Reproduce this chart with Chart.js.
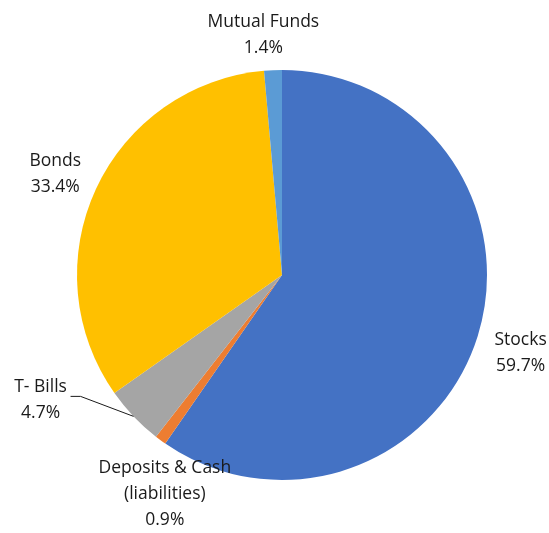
<!DOCTYPE html>
<html>
<head>
<meta charset="utf-8">
<script src="https://cdn.jsdelivr.net/npm/chart.js@4"></script>
<style>
  html, body { margin: 0; padding: 0; background: #fff; }
  #wrap { width: 549px; height: 533px; }
</style>
</head>
<body>
<div id="wrap"><canvas id="pie"></canvas></div>
<script>
const categories = ['Stocks', 'Deposits & Cash\n(liabilities)', 'T- Bills', 'Bonds', 'Mutual Funds'];
const shares     = [59.7, 0.9, 4.7, 33.4, 1.4];
const colors     = ['#4472C4', '#ED7D31', '#A5A5A5', '#FFC000', '#5B9BD5'];

// label placement: distance from centre along the slice mid-angle, plus a nudge
const labelRadius = [250, 262, 0, 250, 242];
const labelNudge  = [[0, 3], [38, 8], [0, 0], [0, 4], [-8, 2]];

const outsideLabels = {
    id: 'outsideLabels',
    afterDraw(chart) {
        const ctx  = chart.ctx;
        const arcs = chart.getDatasetMeta(0).data;
        ctx.save();
        ctx.font = '17.5px "Open Sans"';
        ctx.fillStyle = '#1a1a1a';
        ctx.textBaseline = 'middle';
        const lh = 26;

        arcs.forEach((arc, i) => {
            const { x, y, startAngle, endAngle, outerRadius } = arc.getProps(['x', 'y', 'startAngle', 'endAngle', 'outerRadius'], true);
            const mid   = (startAngle + endAngle) / 2;
            const lines = categories[i].split('\n').concat(shares[i].toFixed(1) + '%');

            if (labelRadius[i] === 0) {
                // leader line label (T- Bills)
                const ex = x + Math.cos(mid) * outerRadius;
                const ey = y + Math.sin(mid) * outerRadius;
                const kx = ex - 53, ky = ey - 20;
                ctx.strokeStyle = '#1a1a1a';
                ctx.lineWidth = 1;
                ctx.beginPath();
                ctx.moveTo(ex, ey);
                ctx.lineTo(kx, ky);
                ctx.lineTo(kx - 10, ky);
                ctx.stroke();
                ctx.textAlign = 'center';
                const cx = kx - 40;
                ctx.fillText(lines[0], cx, ky - 9);
                ctx.fillText(lines[1], cx, ky - 9 + lh);
                return;
            }

            const cx = x + Math.cos(mid) * labelRadius[i] + labelNudge[i][0];
            const cy = y + Math.sin(mid) * labelRadius[i] + labelNudge[i][1];
            ctx.textAlign = 'center';
            const top = cy - (lines.length - 1) * lh / 2;
            lines.forEach((t, k) => ctx.fillText(t, cx, top + k * lh));
        });
        ctx.restore();
    }
};

new Chart(document.getElementById('pie').getContext('2d'), {
    type: 'pie',
    data: {
        labels: categories,
        datasets: [{
            data: shares,
            backgroundColor: colors,
            borderWidth: 0
        }]
    },
    options: {
        responsive: true,
        maintainAspectRatio: false,
        animation: false,
        layout: { padding: { top: 70, bottom: 53, left: 77, right: 62 } },
        plugins: {
            legend: { display: false },
            tooltip: { enabled: false }
        }
    },
    plugins: [outsideLabels]
});
</script>
</body>
</html>
